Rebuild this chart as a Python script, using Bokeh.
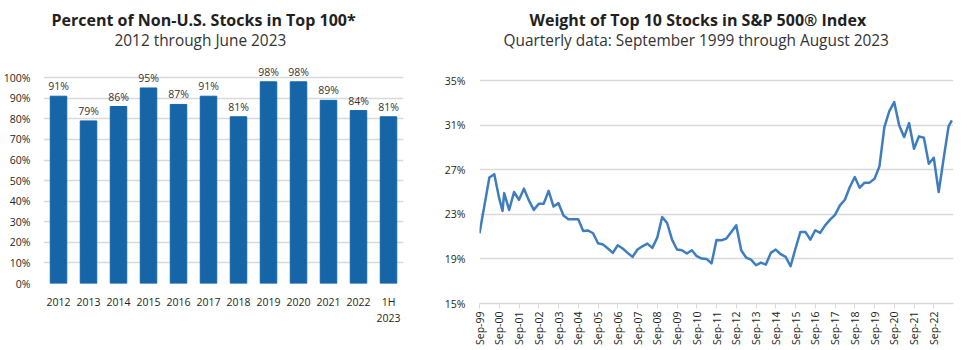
import numpy as np
from bokeh.plotting import figure
from bokeh.layouts import row, column
from bokeh.models import (ColumnDataSource, FixedTicker, PrintfTickFormatter, Title,
                          Range1d, FactorRange)
from bokeh.embed import file_html
from bokeh.resources import INLINE
from bokeh.core.properties import value

# ---------------- data ----------------
years = ["2012", "2013", "2014", "2015", "2016", "2017", "2018", "2019", "2020",
         "2021", "2022", "1H\n2023"]
pct_non_us = [91, 79, 86, 95, 87, 91, 81, 98, 98, 89, 84, 81]
bar_labels = [f"{v}%" for v in pct_non_us]

dates = ["1999-09", "1999-12", "2000-03", "2000-06", "2000-09", "2000-11", "2000-12",
         "2001-03", "2001-06", "2001-09", "2001-12", "2002-03", "2002-06", "2002-09",
         "2002-12", "2003-03", "2003-06", "2003-09", "2003-12", "2004-03", "2004-06",
         "2004-09", "2004-12", "2005-03", "2005-06", "2005-09", "2005-12", "2006-03",
         "2006-06", "2006-09", "2006-12", "2007-03", "2007-06", "2007-09", "2007-12",
         "2008-03", "2008-06", "2008-09", "2008-12", "2009-03", "2009-06", "2009-09",
         "2009-12", "2010-03", "2010-06", "2010-09", "2010-12", "2011-03", "2011-06",
         "2011-09", "2011-12", "2012-03", "2012-06", "2012-09", "2012-12", "2013-03",
         "2013-06", "2013-09", "2013-12", "2014-03", "2014-06", "2014-09", "2014-12",
         "2015-03", "2015-06", "2015-09", "2015-12", "2016-03", "2016-06", "2016-09",
         "2016-12", "2017-03", "2017-06", "2017-09", "2017-12", "2018-03", "2018-06",
         "2018-09", "2018-12", "2019-03", "2019-06", "2019-09", "2019-12", "2020-03",
         "2020-06", "2020-09", "2020-12", "2021-03", "2021-06", "2021-09", "2021-12",
         "2022-03", "2022-06", "2022-09", "2022-12", "2023-03", "2023-06", "2023-08"]
weights = [21.3, 23.8, 26.3, 26.6, 24.4, 23.3, 24.9,
           23.4, 25.0, 24.3, 25.3, 24.25, 23.4, 23.95,
           23.95, 25.1, 23.7, 24.0, 22.9, 22.55, 22.55,
           22.55, 21.5, 21.55, 21.3, 20.4, 20.3, 19.93,
           19.54, 20.22, 19.93, 19.54, 19.18, 19.84, 20.13,
           20.37, 19.99, 20.91, 22.76, 22.22, 20.73, 19.84,
           19.78, 19.48, 19.78, 19.24, 19.03, 19.0, 18.6,
           20.7, 20.67, 20.82, 21.42, 22.01, 19.78, 19.12,
           18.94, 18.43, 18.67, 18.49, 19.54, 19.84, 19.42,
           19.18, 18.34, 19.93, 21.42, 21.42, 20.73, 21.57,
           21.33, 22.01, 22.52, 22.95, 23.8, 24.31, 25.45,
           26.34, 25.39, 25.84, 25.84, 26.19, 27.3, 30.82,
           32.25, 33.06, 30.97, 29.93, 31.18, 28.88, 29.99,
           29.87, 27.54, 28.07, 25.0, 27.99, 30.88, 31.42]
tick_labels = ["Sep-99", "Sep-00", "Sep-01", "Sep-02", "Sep-03", "Sep-04", "Sep-05",
               "Sep-06", "Sep-07", "Sep-08", "Sep-09", "Sep-10", "Sep-11", "Sep-12",
               "Sep-13", "Sep-14", "Sep-15", "Sep-16", "Sep-17", "Sep-18", "Sep-19",
               "Sep-20", "Sep-21", "Sep-22"]
left_yticks = [0, 10, 20, 30, 40, 50, 60, 70, 80, 90, 100]
right_yticks = [15, 19, 23, 27, 31, 35]

FONT = "Open Sans"
TXT = "#231f20"
GRID = "#d9d9d9"
BAR = "#1565a7"
LINE = "#3e7dc0"

def month_offset(d):
    y, m = d.split("-")
    return (int(y) - 1999) * 12 + (int(m) - 9)

months = [month_offset(d) for d in dates]
tick_pos = [12 * i for i in range(len(tick_labels))]

def add_titles(p, main, sub, main_offset, sub_offset):
    p.add_layout(Title(text=sub, align="left", offset=sub_offset,
                       text_font=FONT, text_font_size="15.4px", text_font_style="normal",
                       text_color="#333333", standoff=-17), "above")
    p.add_layout(Title(text=main, align="left", offset=main_offset,
                       text_font=FONT, text_font_size="16px", text_font_style="bold",
                       text_color=TXT, standoff=12), "above")

# ---------------- left chart ----------------
p1 = figure(width=430, height=350, x_range=FactorRange(*years), y_range=Range1d(0, 117.1),
            output_backend="svg", toolbar_location=None,
            min_border_left=40, min_border_right=27, min_border_bottom=67, min_border_top=0)
p1.outline_line_color = None
p1.background_fill_color = "white"
p1.border_fill_color = "white"

src1 = ColumnDataSource(dict(x=years, top=pct_non_us, lab=bar_labels))
p1.vbar(x="x", top="top", width=0.55, source=src1, fill_color=BAR, line_color=BAR)
p1.text(x="x", y="top", text="lab", source=src1, text_align="center",
        text_baseline="bottom", y_offset=-3, text_font=value(FONT),
        text_font_size="10.5px", text_color="#333333")

p1.xgrid.grid_line_color = None
p1.ygrid.grid_line_color = GRID
p1.ygrid.grid_line_width = 1.5
p1.yaxis.ticker = FixedTicker(ticks=left_yticks)
p1.yaxis.formatter = PrintfTickFormatter(format="%d%%")
for ax in (p1.xaxis[0], p1.yaxis[0]):
    ax.axis_line_color = None
    ax.major_tick_line_color = None
    ax.minor_tick_line_color = None
    ax.major_label_text_font = FONT
    ax.major_label_text_font_size = "10.5px"
    ax.major_label_text_color = TXT
p1.yaxis.major_label_standoff = 7
p1.xaxis.major_label_standoff = 5

add_titles(p1, "Percent of Non-U.S. Stocks in Top 100*", "2012 through June 2023", 8, 71)

# ---------------- right chart ----------------
p2 = figure(width=537, height=350, x_range=Range1d(0, 288), y_range=Range1d(15, 38.41),
            output_backend="svg", toolbar_location=None,
            min_border_left=49, min_border_right=14, min_border_bottom=47, min_border_top=0)
p2.outline_line_color = None
p2.background_fill_color = "white"
p2.border_fill_color = "white"

src2 = ColumnDataSource(dict(x=months, y=weights))
p2.line(x="x", y="y", source=src2, line_color=LINE, line_width=2.5, line_join="round")

p2.xgrid.grid_line_color = None
p2.ygrid.grid_line_color = GRID
p2.ygrid.grid_line_width = 1.5
p2.yaxis.ticker = FixedTicker(ticks=right_yticks)
p2.yaxis.formatter = PrintfTickFormatter(format="%d%%")
p2.xaxis.ticker = FixedTicker(ticks=tick_pos)
p2.xaxis.major_label_overrides = {pos: lab for pos, lab in zip(tick_pos, tick_labels)}
p2.xaxis.major_label_orientation = np.pi / 2
for ax in (p2.xaxis[0], p2.yaxis[0]):
    ax.minor_tick_line_color = None
    ax.major_label_text_font = FONT
    ax.major_label_text_font_size = "10.5px"
    ax.major_label_text_color = TXT
p2.yaxis.axis_line_color = None
p2.yaxis.major_tick_line_color = None
p2.yaxis.major_label_standoff = 8
p2.xaxis.axis_line_color = GRID
p2.xaxis.axis_line_width = 1.5
p2.xaxis.major_tick_line_color = GRID
p2.xaxis.major_tick_line_width = 1
p2.xaxis.major_tick_in = 0
p2.xaxis.major_tick_out = 5
p2.xaxis.major_label_standoff = 3

add_titles(p2, "Weight of Top 10 Stocks in S&P 500\u00ae Index",
           "Quarterly data: September 1999 through August 2023", 50, 24)

layout = row(column(p1), column(p2))
open("out.html", "w").write(file_html(layout, INLINE))
